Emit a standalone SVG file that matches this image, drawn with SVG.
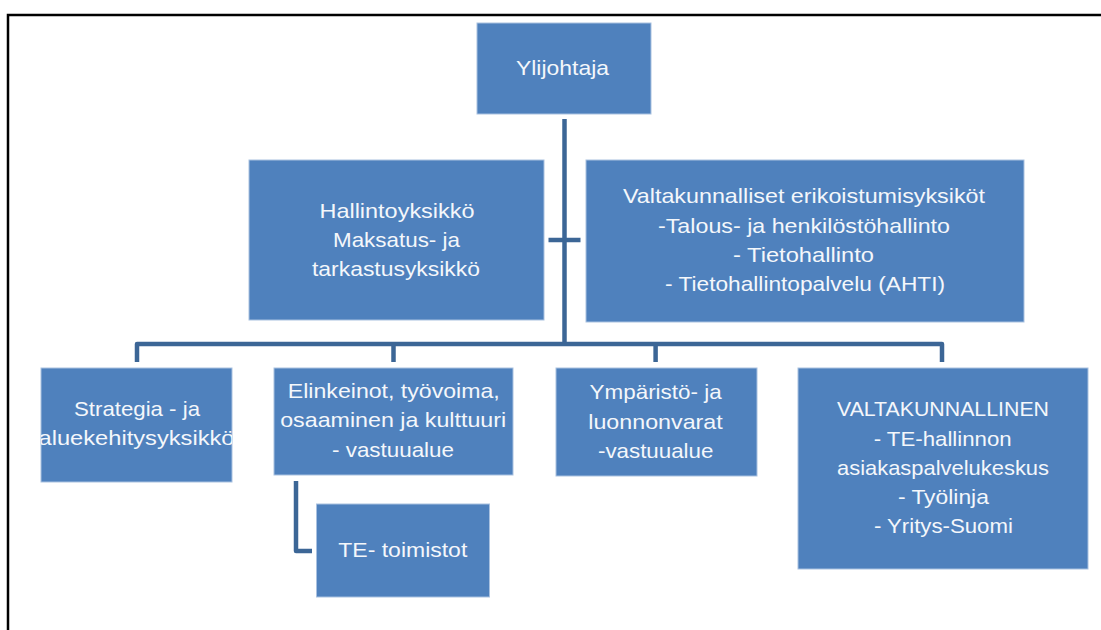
<svg xmlns="http://www.w3.org/2000/svg" width="1101" height="630" viewBox="0 0 1101 630">
<style>
.box{fill:#4f81bd;stroke:#a9c1e0;stroke-width:1}
.t{font-family:"Liberation Sans",Arial,sans-serif;font-size:21px;fill:#f4f7fb;text-anchor:middle}
.c{fill:none;stroke:#3c6696;stroke-width:4.5;stroke-linejoin:round}
</style>
<defs>
<clipPath id="clipS"><rect x="41" y="368" width="191" height="114"/></clipPath>
</defs>
<rect x="0" y="0" width="1101" height="630" fill="#ffffff"/>
<g id="frame" stroke="#000" stroke-width="2.5" fill="none">
<path d="M1101,15 H8 V630"/>
</g>
<g id="connectors">
<path class="c" d="M564.5,119 V344"/>
<path class="c" d="M137,362 V344 H942 V362"/>
<path class="c" d="M393.5,344 V362"/>
<path class="c" d="M655.6,344 V362"/>
<path class="c" d="M548.5,240 H580.5"/>
<path class="c" d="M296,481 V551 H312"/>
</g>
<g id="ylijohtaja">
<rect class="box" x="477" y="23" width="174" height="91"/>
<text class="t" x="562.5" y="75" textLength="93" lengthAdjust="spacingAndGlyphs">Ylijohtaja</text>
</g>
<g id="hallinto">
<rect class="box" x="249" y="160" width="295" height="160"/>
<text class="t" x="397" y="218" textLength="155" lengthAdjust="spacingAndGlyphs">Hallintoyksikkö</text>
<text class="t" x="396.5" y="247" textLength="127" lengthAdjust="spacingAndGlyphs">Maksatus- ja</text>
<text class="t" x="396" y="276" textLength="168" lengthAdjust="spacingAndGlyphs">tarkastusyksikkö</text>
</g>
<g id="valtakunnalliset">
<rect class="box" x="586" y="160" width="438" height="162"/>
<text class="t" x="804" y="203" textLength="362" lengthAdjust="spacingAndGlyphs">Valtakunnalliset erikoistumisyksiköt</text>
<text class="t" x="804" y="232.5" textLength="292" lengthAdjust="spacingAndGlyphs">-Talous- ja henkilöstöhallinto</text>
<text class="t" x="803.5" y="261.5" textLength="141" lengthAdjust="spacingAndGlyphs">- Tietohallinto</text>
<text class="t" x="805" y="290.5" textLength="280" lengthAdjust="spacingAndGlyphs">- Tietohallintopalvelu (AHTI)</text>
</g>
<g id="strategia">
<rect class="box" x="41" y="368" width="191" height="114"/>
<g clip-path="url(#clipS)">
<text class="t" x="137" y="416" textLength="126" lengthAdjust="spacingAndGlyphs">Strategia - ja</text>
<text class="t" x="136.5" y="445" textLength="196" lengthAdjust="spacingAndGlyphs">aluekehitysyksikkö</text>
</g>
</g>
<g id="elinkeinot">
<rect class="box" x="274" y="368" width="239" height="107"/>
<text class="t" x="393.8" y="398" textLength="212" lengthAdjust="spacingAndGlyphs">Elinkeinot, työvoima,</text>
<text class="t" x="393.2" y="427" textLength="226" lengthAdjust="spacingAndGlyphs">osaaminen ja kulttuuri</text>
<text class="t" x="393" y="456.5" textLength="122" lengthAdjust="spacingAndGlyphs">- vastuualue</text>
</g>
<g id="te-toimistot">
<rect class="box" x="316.5" y="504" width="173" height="93"/>
<text class="t" x="402.8" y="557" textLength="129" lengthAdjust="spacingAndGlyphs">TE- toimistot</text>
</g>
<g id="ymparisto">
<rect class="box" x="556" y="368" width="201" height="108"/>
<text class="t" x="655.6" y="399" textLength="132" lengthAdjust="spacingAndGlyphs">Ympäristö- ja</text>
<text class="t" x="655.5" y="429" textLength="134.5" lengthAdjust="spacingAndGlyphs">luonnonvarat</text>
<text class="t" x="655.7" y="458" textLength="115.5" lengthAdjust="spacingAndGlyphs">-vastuualue</text>
</g>
<g id="valtakunnallinen">
<rect class="box" x="798" y="368" width="290" height="201"/>
<text class="t" x="943" y="416" textLength="212" lengthAdjust="spacingAndGlyphs">VALTAKUNNALLINEN</text>
<text class="t" x="942.7" y="445.5" textLength="138" lengthAdjust="spacingAndGlyphs">- TE-hallinnon</text>
<text class="t" x="943" y="475" textLength="212" lengthAdjust="spacingAndGlyphs">asiakaspalvelukeskus</text>
<text class="t" x="943.4" y="504" textLength="91" lengthAdjust="spacingAndGlyphs">- Työlinja</text>
<text class="t" x="943.4" y="533" textLength="139" lengthAdjust="spacingAndGlyphs">- Yritys-Suomi</text>
</g>
</svg>
